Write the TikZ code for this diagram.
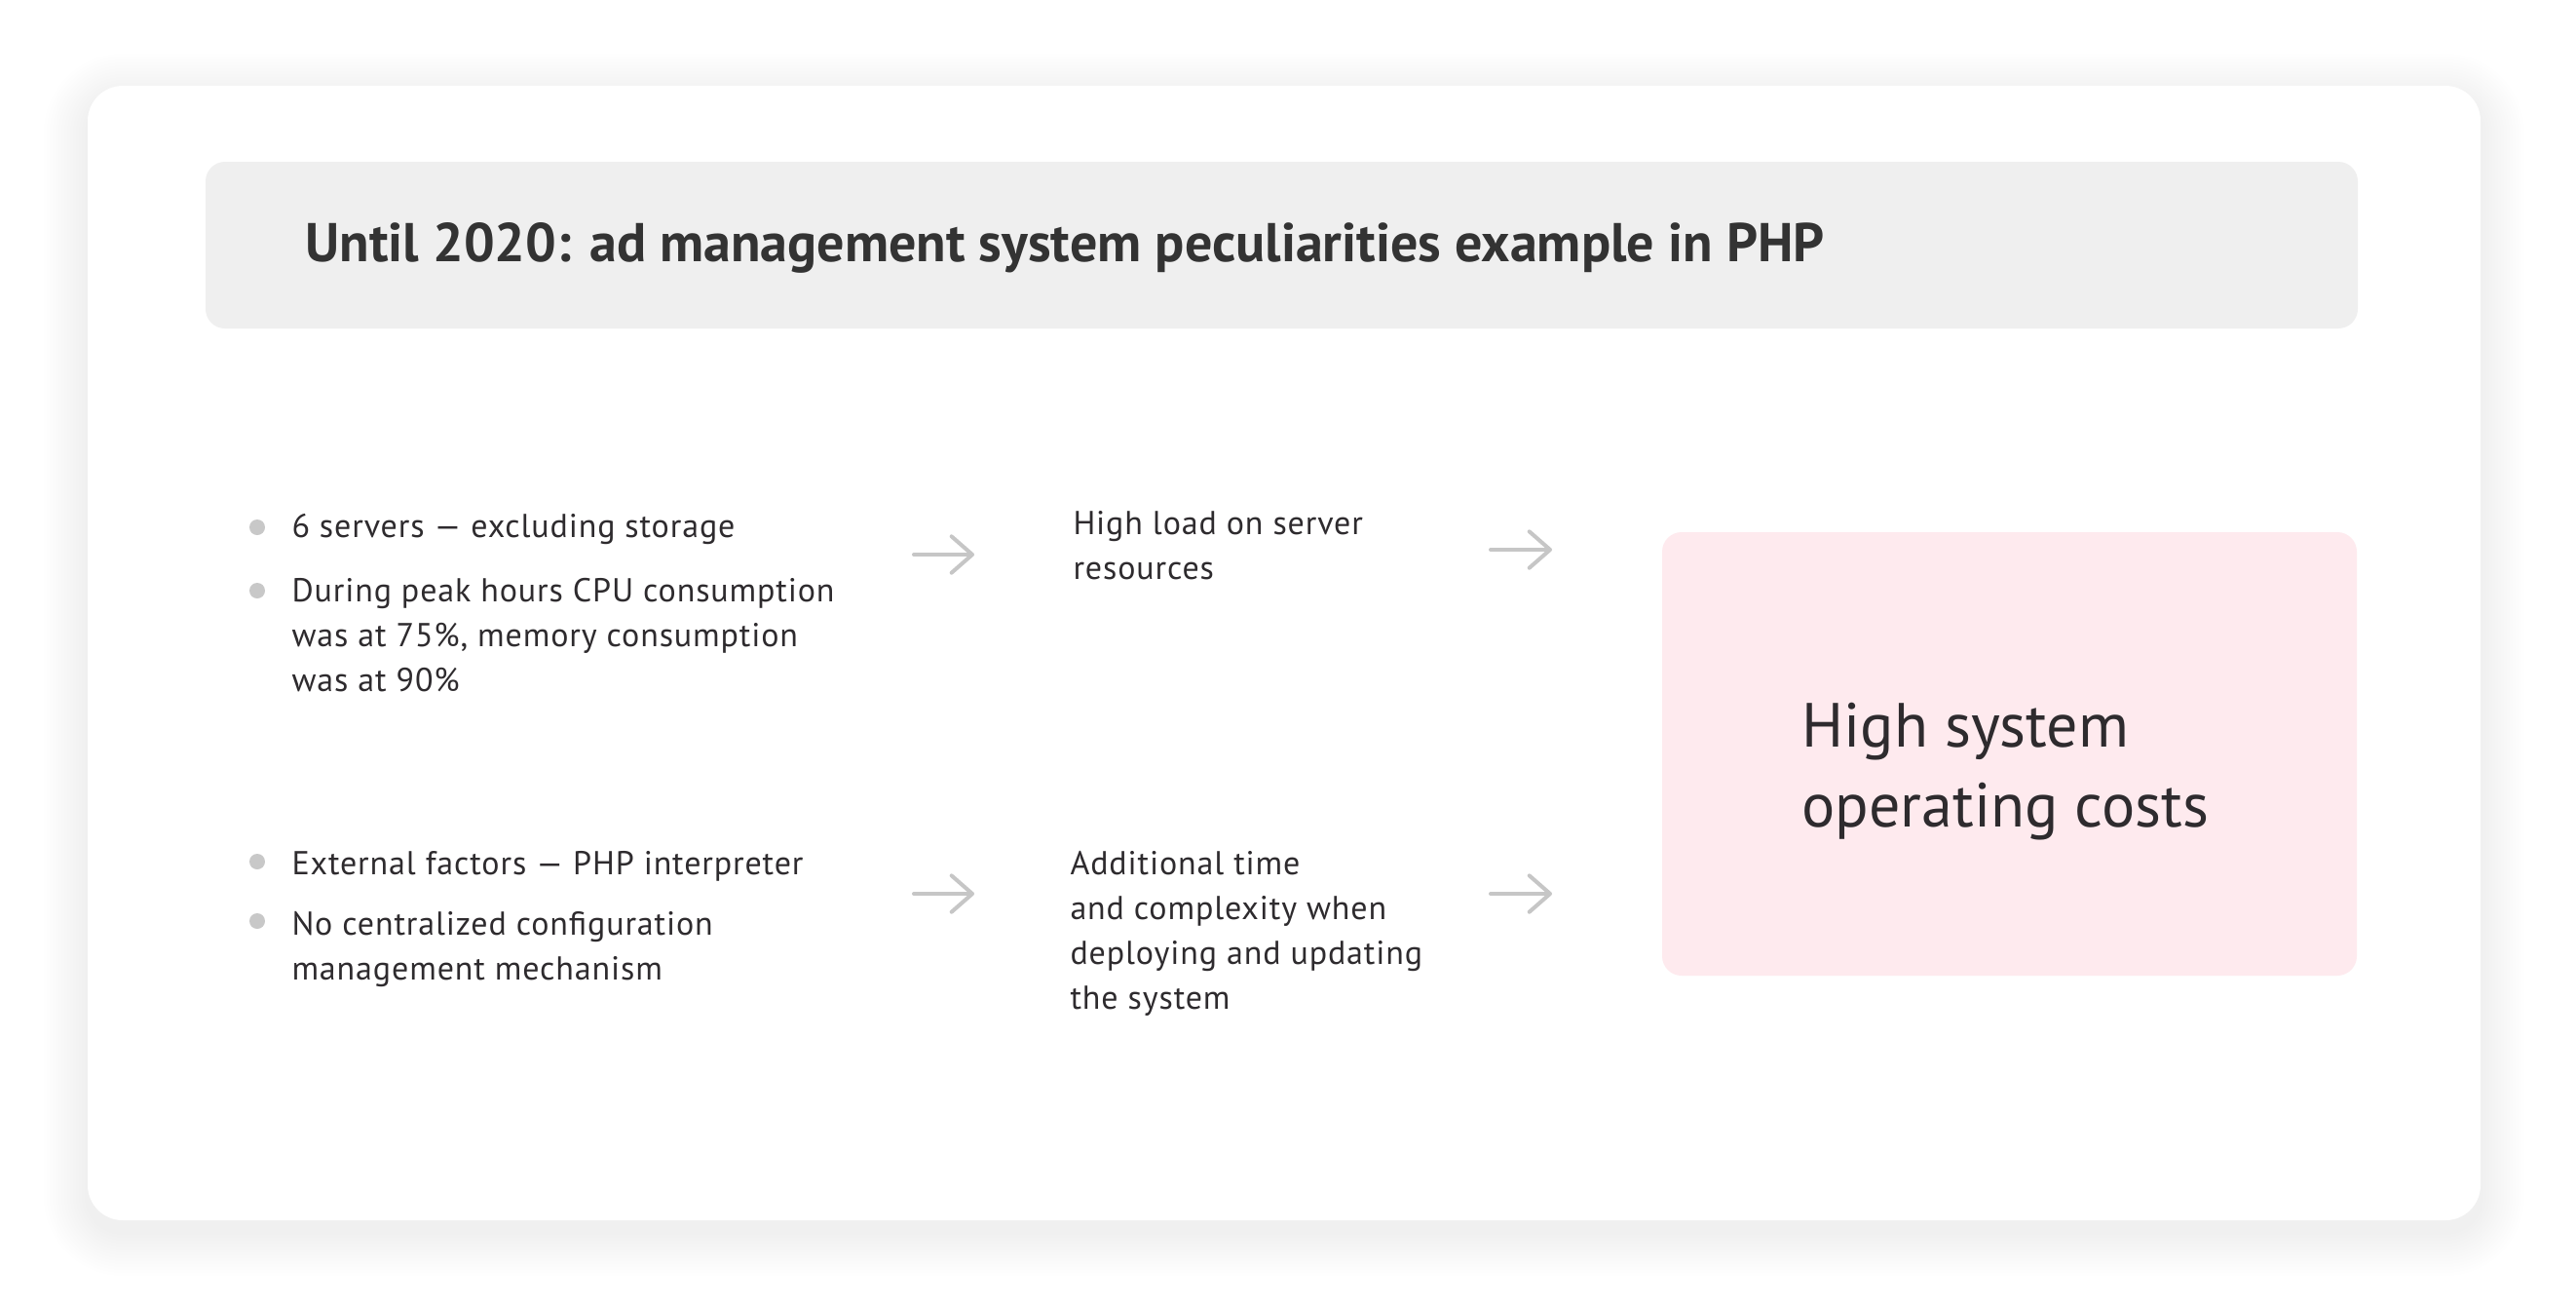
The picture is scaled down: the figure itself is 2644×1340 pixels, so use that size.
\documentclass[tikz,border=0pt]{standalone}
\usepackage{fontspec}
\setmainfont{PT Sans}
\newfontfamily\bodyfont[LetterSpace=2.6]{PT Sans}
\usetikzlibrary{arrows.meta}

\definecolor{txtdark}{HTML}{2E2B2E}
\definecolor{titlegrey}{HTML}{333333}
\definecolor{headfill}{HTML}{EFEFEF}
\definecolor{pinkfill}{HTML}{FEEAEE}
\definecolor{dotgrey}{HTML}{C8C8C8}
\definecolor{arrowgrey}{HTML}{C6C6C6}
\definecolor{shadowblue}{HTML}{1E2A4A}

\tikzset{every picture/.style={line width=0.75pt},
	plain/.style={anchor=base west,inner sep=0pt,align=left,text=txtdark,font=\bodyfont\fontsize{25.5}{34.5}\selectfont},
	dot/.style={circle,fill=dotgrey,inner sep=0pt,minimum size=12pt},
	flow/.style={draw=arrowgrey,line width=3pt,line cap=round,-{Straight Barb[length=16pt,width=28pt,round]}}
}

\begin{document}
\begin{tikzpicture}[x=0.75pt,y=0.75pt,yscale=-1,xscale=1]
	\useasboundingbox (0,0) rectangle (2644,1340);
	\fill[white] (0,0) rectangle (2644,1340);

	%Soft shadow under the card
	\foreach \i in {1,...,15}{
		\pgfmathsetmacro{\e}{3*\i}
		\pgfmathsetmacro{\r}{27+0.75*\e}
		\fill[shadowblue, opacity=0.0022, rounded corners=\r pt] (90-\e,100-\e) rectangle (2546+\e,1264+\e);
	}
	%Rounded Rect [id:card]
	\fill[white, rounded corners=27pt] (90,88) rectangle (2546,1252);
	%Rounded Rect [id:head]
	\fill[headfill, rounded corners=15pt] (211,166) rectangle (2420,337);
	%Rounded Rect [id:result]
	\fill[pinkfill, rounded corners=15pt] (1706,546) rectangle (2419,1001);

	% Text Node
	\node[anchor=base west, inner sep=0pt, text=titlegrey, font=\fontsize{42}{50}\selectfont\bfseries] (title) at (313,268) {Until 2020: ad management system peculiarities example in PHP};

	% Bullets
	\node[dot] (d1) at (264,541) {};
	\node[dot] (d2) at (264,606) {};
	\node[dot] (d3) at (264,884) {};
	\node[dot] (d4) at (264,945) {};

	% Text Node (anchored at the last line)
	\node[plain] (servers) at (299,551) {6 servers — excluding storage};
	% Text Node
	\node[plain] (peak) at (299,709) {During peak hours CPU consumption\\was at 75\%, memory consumption\\was at 90\%};
	% Text Node
	\node[plain] (external) at (299,897) {External factors — PHP interpreter};
	% Text Node
	\node[plain] (config) at (299,1005) {No centralized configuration\\management mechanism};

	% Text Node
	\node[plain] (load) at (1101,594) {High load on server\\resources};
	% Text Node
	\node[plain] (deploy) at (1098,1035) {Additional time\\and complexity when\\deploying and updating\\the system};

	% Text Node
	\node[anchor=base west, inner sep=0pt, align=left, text=txtdark, font=\fontsize{48}{61.5}\selectfont] (costs) at (1849,848) {High system\\operating costs};

	% Arrows
	\coordinate (a1s) at (938,569);
	\coordinate (a1e) at (1000,569);
	\coordinate (a2s) at (1530,564);
	\coordinate (a2e) at (1593,564);
	\coordinate (a3s) at (938,917);
	\coordinate (a3e) at (1000,917);
	\coordinate (a4s) at (1530,917);
	\coordinate (a4e) at (1593,917);
	\draw[flow] (a1s) -- (a1e);
	\draw[flow] (a2s) -- (a2e);
	\draw[flow] (a3s) -- (a3e);
	\draw[flow] (a4s) -- (a4e);

\end{tikzpicture}
\end{document}
